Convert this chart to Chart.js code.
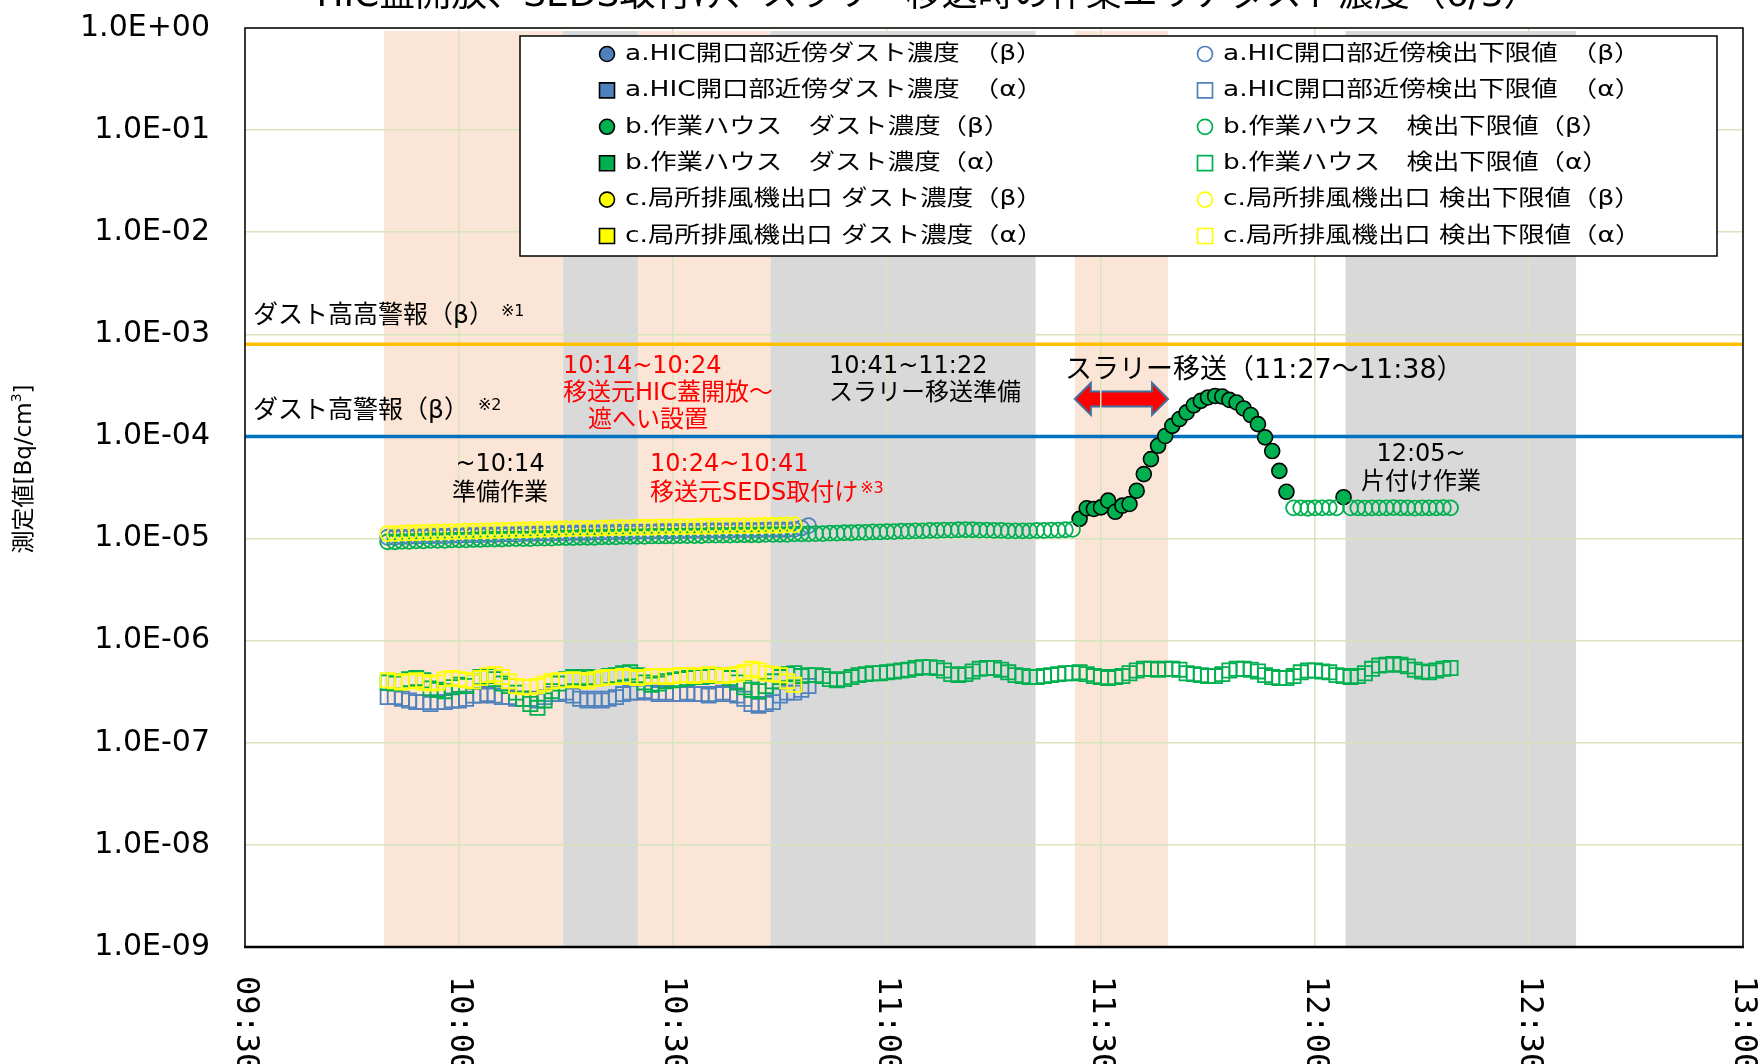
<!DOCTYPE html>
<html>
<head>
<meta charset="utf-8">
<script src="https://cdn.jsdelivr.net/npm/chart.js@4.4.1/dist/chart.umd.min.js"></script>
<style>
  html, body { margin: 0; padding: 0; background: #fff; }
  #wrap { width: 1761px; height: 1064px; position: relative; }
</style>
</head>
<body>
<div id="wrap"><canvas id="chart"></canvas></div>
<script>
// sampling times, one per minute
const times = [
  '09:50','09:51','09:52','09:53','09:54','09:55','09:56','09:57','09:58','09:59',
  '10:00','10:01','10:02','10:03','10:04','10:05','10:06','10:07','10:08','10:09',
  '10:10','10:11','10:12','10:13','10:14','10:15','10:16','10:17','10:18','10:19',
  '10:20','10:21','10:22','10:23','10:24','10:25','10:26','10:27','10:28','10:29',
  '10:30','10:31','10:32','10:33','10:34','10:35','10:36','10:37','10:38','10:39',
  '10:40','10:41','10:42','10:43','10:44','10:45','10:46','10:47','10:48','10:49',
  '10:50','10:51','10:52','10:53','10:54','10:55','10:56','10:57','10:58','10:59',
  '11:00','11:01','11:02','11:03','11:04','11:05','11:06','11:07','11:08','11:09',
  '11:10','11:11','11:12','11:13','11:14','11:15','11:16','11:17','11:18','11:19',
  '11:20','11:21','11:22','11:23','11:24','11:25','11:26','11:27','11:28','11:29',
  '11:30','11:31','11:32','11:33','11:34','11:35','11:36','11:37','11:38','11:39',
  '11:40','11:41','11:42','11:43','11:44','11:45','11:46','11:47','11:48','11:49',
  '11:50','11:51','11:52','11:53','11:54','11:55','11:56','11:57','11:58','11:59',
  '12:00','12:01','12:02','12:03','12:04','12:05','12:06','12:07','12:08','12:09',
  '12:10','12:11','12:12','12:13','12:14','12:15','12:16','12:17','12:18','12:19'
];

// a. HIC opening (blue) - only detection limits were plotted
const aBetaDetect = [];
const aAlphaDetect = [];
const aBetaLimit = [
  1.03e-5,1.03e-5,1.04e-5,1.04e-5,1.05e-5,1.05e-5,1.06e-5,1.06e-5,1.06e-5,1.07e-5,
  1.07e-5,1.08e-5,1.08e-5,1.08e-5,1.09e-5,1.09e-5,1.10e-5,1.10e-5,1.10e-5,1.11e-5,
  1.11e-5,1.12e-5,1.12e-5,1.12e-5,1.13e-5,1.13e-5,1.14e-5,1.14e-5,1.14e-5,1.15e-5,
  1.15e-5,1.15e-5,1.16e-5,1.16e-5,1.16e-5,1.17e-5,1.17e-5,1.17e-5,1.18e-5,1.18e-5,
  1.18e-5,1.18e-5,1.19e-5,1.19e-5,1.19e-5,1.20e-5,1.20e-5,1.20e-5,1.20e-5,1.21e-5,
  1.21e-5,1.21e-5,1.21e-5,1.22e-5,1.22e-5,1.22e-5,1.22e-5,1.23e-5,1.27e-5,1.34e-5
];
const aAlphaLimit = [
  2.8e-7,2.8e-7,2.7e-7,2.6e-7,2.5e-7,2.5e-7,2.4e-7,2.5e-7,2.5e-7,2.6e-7,
  2.6e-7,2.7e-7,2.9e-7,2.9e-7,3.0e-7,2.9e-7,2.8e-7,2.8e-7,2.7e-7,2.7e-7,
  2.7e-7,2.6e-7,2.8e-7,3.0e-7,3.0e-7,3.1e-7,2.9e-7,2.7e-7,2.6e-7,2.7e-7,
  2.6e-7,2.7e-7,2.8e-7,3.0e-7,3.1e-7,3.1e-7,3.2e-7,3.1e-7,3.0e-7,3.1e-7,
  3.0e-7,3.0e-7,3.1e-7,3.0e-7,3.0e-7,2.9e-7,3.0e-7,3.1e-7,3.0e-7,2.9e-7,
  2.7e-7,2.4e-7,2.3e-7,2.4e-7,2.5e-7,2.9e-7,3.1e-7,3.1e-7,3.3e-7,3.6e-7
];

// b. work house (green)
const bBetaDetectFrom = '11:27';
const bBetaDetect = [
  1.56e-5,1.98e-5,1.95e-5,2.02e-5,2.35e-5,1.83e-5,2.10e-5,2.18e-5,2.94e-5,4.28e-5,
  6.0e-5,8.1e-5,1.01e-4,1.27e-4,1.48e-4,1.72e-4,2.02e-4,2.23e-4,2.41e-4,2.49e-4,
  2.46e-4,2.28e-4,2.15e-4,1.88e-4,1.62e-4,1.32e-4,9.8e-5,7.2e-5,4.6e-5,2.87e-5,
  null,null,null,null,null,null,null,2.54e-5
];
const bAlphaDetect = [];
const bBetaLimit = [
  9.3e-6,9.3e-6,9.4e-6,9.4e-6,9.5e-6,9.5e-6,9.6e-6,9.6e-6,9.6e-6,9.7e-6,
  9.7e-6,9.7e-6,9.8e-6,9.8e-6,9.9e-6,9.9e-6,9.9e-6,1.00e-5,1.00e-5,1.00e-5,
  1.00e-5,1.01e-5,1.01e-5,1.01e-5,1.02e-5,1.02e-5,1.02e-5,1.03e-5,1.03e-5,1.03e-5,
  1.04e-5,1.04e-5,1.04e-5,1.05e-5,1.05e-5,1.05e-5,1.05e-5,1.06e-5,1.06e-5,1.06e-5,
  1.06e-5,1.07e-5,1.07e-5,1.07e-5,1.07e-5,1.08e-5,1.08e-5,1.08e-5,1.08e-5,1.09e-5,
  1.09e-5,1.09e-5,1.09e-5,1.10e-5,1.10e-5,1.10e-5,1.10e-5,1.11e-5,1.11e-5,1.11e-5,
  1.12e-5,1.12e-5,1.13e-5,1.13e-5,1.14e-5,1.14e-5,1.15e-5,1.15e-5,1.16e-5,1.16e-5,
  1.17e-5,1.17e-5,1.18e-5,1.18e-5,1.19e-5,1.19e-5,1.20e-5,1.20e-5,1.21e-5,1.21e-5,
  1.22e-5,1.22e-5,1.22e-5,1.21e-5,1.21e-5,1.20e-5,1.20e-5,1.19e-5,1.19e-5,1.19e-5,
  1.19e-5,1.20e-5,1.20e-5,1.21e-5,1.21e-5,1.22e-5,1.23e-5,
  null,null,null,null,null,null,null,null,null,null,
  null,null,null,null,null,null,null,null,null,null,
  null,null,null,null,null,null,null,null,null,null,
  2.0e-5,2.0e-5,1.98e-5,2.0e-5,2.0e-5,2.01e-5,2.0e-5,
  null,
  2.0e-5,2.0e-5,1.99e-5,2.0e-5,2.0e-5,2.0e-5,2.01e-5,2.0e-5,2.0e-5,1.99e-5,
  2.0e-5,2.0e-5,2.0e-5,2.01e-5,2.0e-5
];
const bAlphaLimit = [
  3.9e-7,3.8e-7,4.0e-7,4.2e-7,4.3e-7,4.1e-7,3.4e-7,3.3e-7,3.2e-7,3.5e-7,
  3.7e-7,3.6e-7,4.0e-7,4.4e-7,4.5e-7,4.2e-7,3.8e-7,3.6e-7,3.1e-7,2.7e-7,
  2.4e-7,2.2e-7,2.6e-7,3.2e-7,3.8e-7,4.2e-7,4.4e-7,4.3e-7,4.4e-7,4.2e-7,
  4.3e-7,4.5e-7,4.6e-7,4.8e-7,4.9e-7,4.6e-7,3.9e-7,3.7e-7,3.8e-7,4.0e-7,
  4.1e-7,4.2e-7,4.3e-7,4.4e-7,4.4e-7,4.5e-7,4.6e-7,4.5e-7,4.3e-7,3.9e-7,
  3.5e-7,3.3e-7,3.2e-7,3.6e-7,4.0e-7,4.4e-7,4.7e-7,4.8e-7,4.5e-7,4.6e-7,
  4.6e-7,4.5e-7,4.2e-7,4.1e-7,4.2e-7,4.4e-7,4.6e-7,4.7e-7,4.8e-7,4.8e-7,
  4.9e-7,5.0e-7,5.1e-7,5.2e-7,5.4e-7,5.5e-7,5.5e-7,5.4e-7,5.1e-7,4.7e-7,
  4.6e-7,4.7e-7,5.0e-7,5.3e-7,5.4e-7,5.4e-7,5.2e-7,4.9e-7,4.6e-7,4.5e-7,
  4.4e-7,4.4e-7,4.5e-7,4.6e-7,4.7e-7,4.8e-7,4.8e-7,4.9e-7,4.7e-7,4.5e-7,
  4.4e-7,4.3e-7,4.4e-7,4.5e-7,4.8e-7,5.1e-7,5.3e-7,5.3e-7,5.2e-7,5.3e-7,
  5.3e-7,5.2e-7,4.8e-7,4.7e-7,4.6e-7,4.5e-7,4.5e-7,4.7e-7,5.1e-7,5.3e-7,
  5.3e-7,5.2e-7,5.0e-7,4.6e-7,4.4e-7,4.3e-7,4.3e-7,4.5e-7,4.9e-7,5.1e-7,
  5.1e-7,5.0e-7,4.9e-7,4.6e-7,4.5e-7,4.4e-7,4.5e-7,4.8e-7,5.3e-7,5.7e-7,
  5.8e-7,5.9e-7,5.8e-7,5.6e-7,5.2e-7,5.0e-7,4.9e-7,5.1e-7,5.3e-7,5.4e-7
];

// c. local exhaust outlet (yellow)
const cBetaDetect = [];
const cAlphaDetect = [];
const cBetaLimit = [
  1.12e-5,1.12e-5,1.13e-5,1.14e-5,1.14e-5,1.15e-5,1.15e-5,1.16e-5,1.16e-5,1.17e-5,
  1.17e-5,1.18e-5,1.18e-5,1.19e-5,1.19e-5,1.20e-5,1.20e-5,1.21e-5,1.21e-5,1.22e-5,
  1.22e-5,1.23e-5,1.23e-5,1.24e-5,1.24e-5,1.25e-5,1.25e-5,1.26e-5,1.26e-5,1.26e-5,
  1.27e-5,1.27e-5,1.28e-5,1.28e-5,1.28e-5,1.29e-5,1.29e-5,1.29e-5,1.30e-5,1.30e-5,
  1.30e-5,1.31e-5,1.31e-5,1.31e-5,1.32e-5,1.32e-5,1.32e-5,1.33e-5,1.33e-5,1.33e-5,
  1.34e-5,1.34e-5,1.34e-5,1.35e-5,1.35e-5,1.35e-5,1.36e-5,1.36e-5
];
const cAlphaLimit = [
  4.1e-7,4.0e-7,3.9e-7,4.0e-7,4.1e-7,3.9e-7,3.8e-7,3.9e-7,4.2e-7,4.3e-7,
  4.2e-7,4.1e-7,4.0e-7,4.3e-7,4.6e-7,4.7e-7,4.4e-7,4.0e-7,3.6e-7,3.5e-7,
  3.5e-7,3.6e-7,3.8e-7,4.0e-7,4.1e-7,4.1e-7,4.2e-7,4.1e-7,4.0e-7,4.2e-7,
  4.3e-7,4.4e-7,4.4e-7,4.5e-7,4.4e-7,4.3e-7,4.4e-7,4.5e-7,4.5e-7,4.4e-7,
  4.5e-7,4.6e-7,4.6e-7,4.5e-7,4.6e-7,4.7e-7,4.6e-7,4.5e-7,4.6e-7,4.7e-7,
  4.9e-7,5.3e-7,5.1e-7,4.8e-7,4.7e-7,4.6e-7,4.0e-7,3.7e-7
];

// alarm levels (β)
const alarmHighHigh = 8.0e-4;
const alarmHigh = 1.0e-4;

// axis ticks
const xTickValues = ['09:30','10:00','10:30','11:00','11:30','12:00','12:30','13:00'];
const yTickValues = [1e-9,1e-8,1e-7,1e-6,1e-5,1e-4,1e-3,1e-2,1e-1,1];
const yTickLabels = ['1.0E-09','1.0E-08','1.0E-07','1.0E-06','1.0E-05','1.0E-04','1.0E-03','1.0E-02','1.0E-01','1.0E+00'];

// shaded work periods
const bandFrom = ['09:49:30','10:14:36','10:25:05','10:43:40','11:26:20','12:04:17'];
const bandTo   = ['10:14:36','10:25:05','10:43:40','11:20:50','11:39:24','12:36:36'];
const bandKind = ['work','wait','work','wait','work','wait'];

const titleText = 'HIC蓋開放、SEDS取付け、スラリー移送時の作業エリアダスト濃度（6/3）';

const JP = '"DejaVu Sans", "Noto Sans CJK JP", sans-serif';
const BLUE = '#4F81BD', GREEN = '#00B050', YELLOW = '#FFFF00', RED = '#FF0000';

function toMin(s) {
  const p = s.split(':').map(Number);
  return p[0] * 60 + p[1] + (p[2] || 0) / 60;
}

function pts(values, from) {
  const i0 = times.indexOf(from || times[0]);
  return values.map((v, i) => ({ x: toMin(times[i0 + i]), y: v })).filter(p => p.y !== null);
}

function series(label, data, style, color, filled, order) {
  return {
    label: label,
    data: data,
    showLine: false,
    pointStyle: style,
    pointRadius: style === 'rect' ? 10 : 7.5,
    pointHoverRadius: style === 'rect' ? 10 : 7.5,
    pointBackgroundColor: filled ? color : 'rgba(0,0,0,0)',
    pointBorderColor: filled ? '#000' : color,
    pointBorderWidth: filled ? 1.6 : 1.8,
    backgroundColor: filled ? color : 'rgba(0,0,0,0)',
    borderColor: filled ? '#000' : color,
    order: order
  };
}

function alarmLine(value, color) {
  return {
    label: '',
    data: [{ x: toMin(xTickValues[0]), y: value }, { x: toMin(xTickValues[xTickValues.length - 1]), y: value }],
    showLine: true,
    borderColor: color,
    borderWidth: 3.5,
    pointRadius: 0,
    order: 20,
    isAlarm: true
  };
}

const datasets = [
  series('a.HIC開口部近傍ダスト濃度　（β）', pts(aBetaDetect), 'circle', BLUE, true, 12),
  series('a.HIC開口部近傍ダスト濃度　（α）', pts(aAlphaDetect), 'rect', BLUE, true, 11),
  series('b.作業ハウス　ダスト濃度（β）', pts(bBetaDetect, bBetaDetectFrom), 'circle', GREEN, true, 10),
  series('b.作業ハウス　ダスト濃度（α）', pts(bAlphaDetect), 'rect', GREEN, true, 9),
  series('c.局所排風機出口 ダスト濃度（β）', pts(cBetaDetect), 'circle', YELLOW, true, 8),
  series('c.局所排風機出口 ダスト濃度（α）', pts(cAlphaDetect), 'rect', YELLOW, true, 7),
  series('a.HIC開口部近傍検出下限値　（β）', pts(aBetaLimit), 'circle', BLUE, false, 6),
  series('a.HIC開口部近傍検出下限値　（α）', pts(aAlphaLimit), 'rect', BLUE, false, 5),
  series('b.作業ハウス　検出下限値（β）', pts(bBetaLimit), 'circle', GREEN, false, 4),
  series('b.作業ハウス　検出下限値（α）', pts(bAlphaLimit), 'rect', GREEN, false, 3),
  series('c.局所排風機出口 検出下限値（β）', pts(cBetaLimit), 'circle', YELLOW, false, 2),
  series('c.局所排風機出口 検出下限値（α）', pts(cAlphaLimit), 'rect', YELLOW, false, 1),
  alarmLine(alarmHighHigh, '#FFC000'),
  alarmLine(alarmHigh, '#0070C0')
];

// text notes placed by time / value
const notes = [
  { t: '09:31:07', v: 1.50e-3, text: 'ダスト高高警報（β）', size: 25, sup: '※1', supGap: 7 },
  { t: '09:31:07', v: 1.77e-4, text: 'ダスト高警報（β）', size: 25, sup: '※2', supGap: 9 },
  { t: '10:14:35', v: 4.86e-4, text: '10:14~10:24', color: RED },
  { t: '10:14:35', v: 2.59e-4, text: '移送元HIC蓋開放～', color: RED },
  { t: '10:18:05', v: 1.41e-4, text: '遮へい設置', color: RED },
  { t: '10:05:45', v: 5.25e-5, text: '~10:14', align: 'center' },
  { t: '10:05:45', v: 2.73e-5, text: '準備作業', align: 'center' },
  { t: '10:26:47', v: 5.25e-5, text: '10:24~10:41', color: RED },
  { t: '10:26:47', v: 2.73e-5, text: '移送元SEDS取付け', color: RED, sup: '※3', supGap: 2 },
  { t: '10:51:52', v: 4.86e-4, text: '10:41~11:22' },
  { t: '10:51:52', v: 2.59e-4, text: 'スラリー移送準備' },
  { t: '11:24:57', v: 4.35e-4, text: 'スラリー移送（11:27～11:38）', size: 27 },
  { t: '12:14:52', v: 6.57e-5, text: '12:05~', align: 'center' },
  { t: '12:14:52', v: 3.50e-5, text: '片付け作業', align: 'center' }
];
const arrowFrom = '11:26:20', arrowTo = '11:39:24', arrowAt = 2.33e-4;

function drawText(ctx, s, x, y, size, color, align, sx) {
  ctx.save();
  ctx.font = size + 'px ' + JP;
  ctx.fillStyle = color;
  ctx.textBaseline = 'middle';
  ctx.textAlign = align || 'left';
  ctx.translate(x, y);
  ctx.scale(sx || 1, 1);
  ctx.fillText(s, 0, 0);
  const w = ctx.measureText(s).width * (sx || 1);
  ctx.restore();
  return w;
}

function drawMarker(ctx, style, x, y, fill, stroke, lw, r) {
  ctx.save();
  ctx.beginPath();
  if (style === 'rect') ctx.rect(x - r, y - r, 2 * r, 2 * r);
  else ctx.arc(x, y, r, 0, Math.PI * 2);
  ctx.fillStyle = fill;
  ctx.fill();
  ctx.lineWidth = lw;
  ctx.strokeStyle = stroke;
  ctx.stroke();
  ctx.restore();
}

const decor = {
  id: 'decor',
  beforeDraw(chart) {
    const { ctx, chartArea: a, scales: { x, y } } = chart;
    ctx.save();
    ctx.fillStyle = '#fff';
    ctx.fillRect(0, 0, chart.width, chart.height);
    bandFrom.forEach((s, i) => {
      const x0 = x.getPixelForValue(toMin(s));
      const x1 = x.getPixelForValue(toMin(bandTo[i]));
      ctx.fillStyle = bandKind[i] === 'work' ? '#FBE5D6' : '#D9D9D9';
      ctx.fillRect(x0, a.top + 3, x1 - x0, a.bottom - a.top - 3);
    });
    // red double arrow for the slurry transfer period
    const ax0 = x.getPixelForValue(toMin(arrowFrom));
    const ax1 = x.getPixelForValue(toMin(arrowTo));
    const ay = y.getPixelForValue(arrowAt);
    const hl = 16, H = 16, h = 7.5;
    ctx.beginPath();
    ctx.moveTo(ax0, ay);
    ctx.lineTo(ax0 + hl, ay - H);
    ctx.lineTo(ax0 + hl, ay - h);
    ctx.lineTo(ax1 - hl, ay - h);
    ctx.lineTo(ax1 - hl, ay - H);
    ctx.lineTo(ax1, ay);
    ctx.lineTo(ax1 - hl, ay + H);
    ctx.lineTo(ax1 - hl, ay + h);
    ctx.lineTo(ax0 + hl, ay + h);
    ctx.lineTo(ax0 + hl, ay + H);
    ctx.closePath();
    ctx.fillStyle = RED;
    ctx.fill();
    ctx.lineWidth = 2;
    ctx.strokeStyle = '#41719C';
    ctx.stroke();
    ctx.restore();
  },
  afterDraw(chart) {
    const { ctx, chartArea: a, scales: { x, y } } = chart;

    // notes
    notes.forEach(n => {
      const px = x.getPixelForValue(toMin(n.t));
      const py = y.getPixelForValue(n.v);
      const w = drawText(ctx, n.text, px, py, n.size || 24, n.color || '#000', n.align || 'left');
      if (n.sup) drawText(ctx, n.sup, px + w + n.supGap, py - 5, 16, n.color || '#000', 'left');
    });

    // plot frame
    ctx.save();
    ctx.strokeStyle = '#000';
    ctx.lineWidth = 1.5;
    ctx.strokeRect(a.left, a.top, a.right - a.left, a.bottom - a.top);
    ctx.lineWidth = 2.5;
    ctx.beginPath();
    ctx.moveTo(a.left - 1, a.bottom);
    ctx.lineTo(a.right + 1, a.bottom);
    ctx.stroke();
    ctx.restore();

    // x tick labels, rotated to read top-down
    ctx.save();
    ctx.font = '32px "DejaVu Sans Mono", monospace';
    ctx.fillStyle = '#000';
    ctx.textBaseline = 'middle';
    ctx.textAlign = 'left';
    xTickValues.forEach(lbl => {
      ctx.save();
      ctx.translate(x.getPixelForValue(toMin(lbl)), a.bottom + 29);
      ctx.rotate(Math.PI / 2);
      ctx.fillText(lbl, 0, 0);
      ctx.restore();
    });
    ctx.restore();

    // y axis title
    ctx.save();
    ctx.translate(25, 469);
    ctx.rotate(-Math.PI / 2);
    ctx.fillStyle = '#000';
    ctx.textBaseline = 'middle';
    const t1 = '測定値[Bq/cm', t3 = ']';
    ctx.font = '23px ' + JP;
    const w1 = ctx.measureText(t1).width;
    const w3 = ctx.measureText(t3).width;
    ctx.font = '14px ' + JP;
    const w2 = ctx.measureText('3').width;
    const sx = -(w1 + w2 + w3) / 2;
    ctx.font = '23px ' + JP;
    ctx.fillText(t1, sx, 0);
    ctx.fillText(t3, sx + w1 + w2, 0);
    ctx.font = '14px ' + JP;
    ctx.fillText('3', sx + w1, -8);
    ctx.restore();

    // chart title (cut off at the top edge)
    ctx.save();
    ctx.font = '36px ' + JP;
    ctx.fillStyle = '#000';
    ctx.textAlign = 'center';
    ctx.textBaseline = 'alphabetic';
    ctx.fillText(titleText, 928, 6);
    ctx.restore();

    // legend box, two columns
    const L = { left: 520, top: 36, right: 1717, bottom: 256 };
    ctx.save();
    ctx.fillStyle = '#fff';
    ctx.fillRect(L.left, L.top, L.right - L.left, L.bottom - L.top);
    ctx.lineWidth = 1.5;
    ctx.strokeStyle = '#000';
    ctx.strokeRect(L.left, L.top, L.right - L.left, L.bottom - L.top);
    ctx.restore();
    chart.data.datasets.filter(d => !d.isAlarm).forEach((d, i) => {
      const col = i < 6 ? 0 : 1;
      const row = i % 6;
      const cy = 54 + row * 36.4;
      const mx = col === 0 ? 607 : 1205;
      drawMarker(ctx, d.pointStyle, mx, cy, d.pointBackgroundColor, d.pointBorderColor,
        col === 0 ? 1.6 : 1.7, 7.5);
      drawText(ctx, d.label, mx + 18, cy, 22, '#000', 'left', 1.2);
    });
  }
};

Chart.defaults.font.family = JP;

new Chart(document.getElementById('chart'), {
  type: 'scatter',
  data: { datasets: datasets },
  options: {
    responsive: true,
    maintainAspectRatio: false,
    animation: false,
    events: [],
    layout: { padding: { top: 28, right: 18, left: 0, bottom: 0 } },
    plugins: {
      legend: { display: false },
      tooltip: { enabled: false },
      title: { display: false }
    },
    scales: {
      x: {
        type: 'linear',
        min: toMin(xTickValues[0]),
        max: toMin(xTickValues[xTickValues.length - 1]),
        ticks: { stepSize: 30, display: false },
        grid: { color: '#D7E4BD', lineWidth: 1.5, drawTicks: false },
        border: { display: false },
        afterFit: s => { s.height = 117; s.paddingLeft = 0; s.paddingRight = 0; }
      },
      y: {
        type: 'logarithmic',
        min: yTickValues[0],
        max: yTickValues[yTickValues.length - 1],
        afterBuildTicks: s => { s.ticks = yTickValues.map(v => ({ value: v })); },
        afterFit: s => { s.width = 245; s.paddingTop = 0; s.paddingBottom = 0; },
        ticks: {
          autoSkip: false,
          padding: 35,
          color: '#000',
          font: { family: '"DejaVu Sans", sans-serif', size: 30 },
          callback: (v, i) => yTickLabels[i]
        },
        grid: { color: '#D7E4BD', lineWidth: 1.5, drawTicks: false },
        border: { display: false }
      }
    }
  },
  plugins: [decor]
});
</script>
</body>
</html>
